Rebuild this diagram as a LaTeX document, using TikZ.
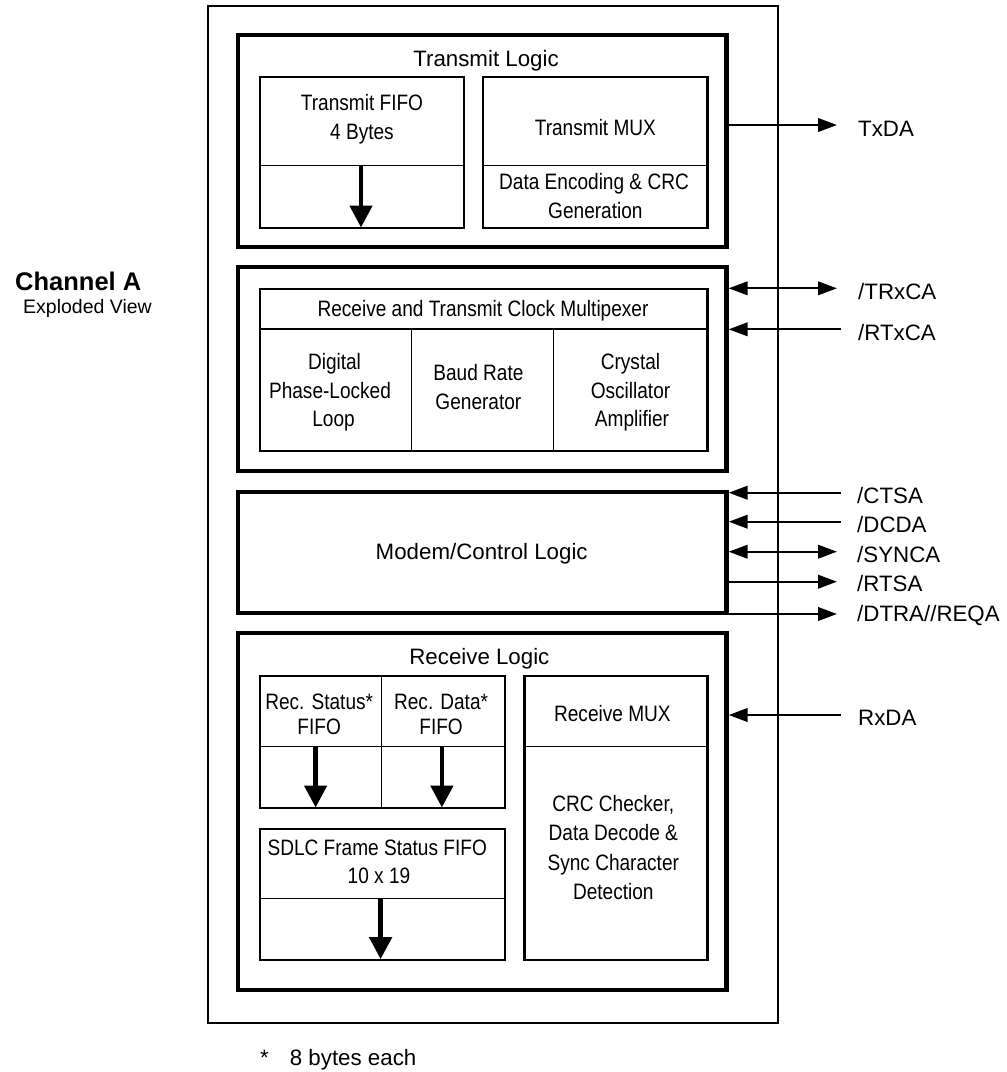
\documentclass[tikz,border=0pt]{standalone}
\usepackage{fontspec}
\setmainfont{Liberation Sans}
\newfontfamily\condf[FakeStretch=0.855]{Liberation Sans}
\usetikzlibrary{arrows.meta,fit}
\begin{document}
\begin{tikzpicture}[x=1pt,y=-1pt,
  outerbox/.style={draw, line width=2pt, inner sep=0pt},
  thickbox/.style={draw, line width=4.3pt, inner sep=0pt},
  innerbox/.style={draw, line width=2.2pt, inner sep=0pt},
  divider/.style={line width=1.3pt},
  reg/.style={font=\fontsize{22.3}{26}\selectfont, inner sep=0pt, anchor=base},
  cond/.style={font=\condf\fontsize{22.3}{26}\selectfont, inner sep=0pt, anchor=base},
  pin/.style={font=\fontsize{22.3}{26}\selectfont, inner sep=0pt, anchor=base west},
  sig/.style={line width=2.3pt},
  sigout/.style={sig, -{Triangle[length=19pt,width=13.5pt]}},
  sigin/.style={sig, -{Triangle[length=19pt,width=13.5pt]}},
  sigbi/.style={sig, {Triangle[length=19pt,width=13.5pt]}-{Triangle[length=19pt,width=13.5pt]}},
  downarrow/.style={line width=4.7pt, -{Triangle[length=22pt,width=22pt]}},
]
\path[use as bounding box, fill=white] (0,0) rectangle (1007,1072);

% outer frame
\node[outerbox, fit={(207.5,6)(777.7,1023.3)}] (outer) {};

% Transmit logic
\node[thickbox, fit={(238,35)(726.5,246.7)}] (tx) {};
\node[innerbox, fit={(260,76.7)(464.3,228.3)}] (tfifo) {};
\node[innerbox, fit={(483.3,76.7)(707.5,228.3)}] (tmux) {};
\draw[divider] (260,165.7) -- (464.3,165.7);
\draw[divider] (483.3,165.7) -- (707.5,165.7);
\node[reg] (txlogic) at (486,66) {Transmit Logic};
\node[cond] (tf1) at (362,110) {Transmit FIFO};
\node[cond] (tf2) at (362,139.3) {4 Bytes};
\node[cond] (tm1) at (595.4,135) {Transmit MUX};
\node[cond] (tm2) at (594,189.3) {Data Encoding \& CRC};
\node[cond] (tm3) at (595.4,218.3) {Generation};
\coordinate (a1s) at (361,165.7);
\coordinate (a1e) at (361,227.5);
\draw[downarrow] (a1s) -- (a1e);

% Clock multiplexer
\node[thickbox, fit={(238,266.7)(726.5,470.7)}] (clk) {};
\node[innerbox, fit={(260,289)(707.5,451)}] (clkmux) {};
\draw[divider] (260,329) -- (707.5,329);
\draw[divider] (411.3,329) -- (411.3,451);
\draw[divider] (553.6,329) -- (553.6,451);
\node[cond] (ch) at (483,316) {Receive and Transmit Clock Multipexer};
\node[cond] (d1) at (334.5,369.3) {Digital};
\node[cond] (d2) at (330,398.3) {Phase-Locked};
\node[cond] (d3) at (333.6,426.7) {Loop};
\node[cond] (b1) at (478.4,380) {Baud Rate};
\node[cond] (b2) at (478.4,409.3) {Generator};
\node[cond] (c1) at (630.5,369.3) {Crystal};
\node[cond] (c2) at (630.5,398.3) {Oscillator};
\node[cond] (c3) at (632,426.7) {Amplifier};

% Modem / control
\node[thickbox, fit={(238,491.7)(726.5,613.3)}] (modem) {};
\node[reg] (modemtxt) at (481.7,559) {Modem/Control Logic};

% Receive logic
\node[thickbox, fit={(238,633.3)(726.5,990)}] (rx) {};
\node[reg] (rxlogic) at (479.4,664.3) {Receive Logic};
\node[innerbox, fit={(260,675.7)(505,808.3)}] (recfifo) {};
\draw[divider] (381.8,675.7) -- (381.8,808.3);
\draw[divider] (260,746.7) -- (505,746.7);
\node[innerbox, fit={(524.5,675.7)(707.5,960)}] (rmux) {};
\draw[divider] (524.5,746.7) -- (707.5,746.7);
\node[innerbox, fit={(260,829.3)(505,960)}] (sdlc) {};
\draw[divider] (260,898.3) -- (505,898.3);
\node[cond] (rs1) at (319.2,709.3) {Rec. Status*};
\node[cond] (rs2) at (319.2,734.3) {FIFO};
\node[cond] (rd1) at (441.1,709.3) {Rec. Data*};
\node[cond] (rd2) at (441.1,734.3) {FIFO};
\node[cond] (rm1) at (612.4,721.7) {Receive MUX};
\node[cond] (cr1) at (613.3,811.7) {CRC Checker,};
\node[cond] (cr2) at (613.3,840.7) {Data Decode \&};
\node[cond] (cr3) at (613.3,870) {Sync Character};
\node[cond] (cr4) at (613.3,899.3) {Detection};
\node[cond] (sd1) at (377.2,855) {SDLC Frame Status FIFO};
\node[cond] (sd2) at (379,883.3) {10 x 19};
\coordinate (a2s) at (315.6,746.7);
\coordinate (a2e) at (315.6,807.5);
\coordinate (a3s) at (441.9,746.7);
\coordinate (a3e) at (441.9,807.5);
\coordinate (a4s) at (380.6,898.3);
\coordinate (a4e) at (380.6,959.2);
\draw[downarrow] (a2s) -- (a2e);
\draw[downarrow] (a3s) -- (a3e);
\draw[downarrow] (a4s) -- (a4e);

% pins
\coordinate (pTxDA) at (837,125);
\coordinate (pTRxC) at (837,288.3);
\coordinate (pRTxC) at (841,329.3);
\coordinate (pCTS) at (841,492.7);
\coordinate (pDCD) at (841,521.7);
\coordinate (pSYNC) at (837,551.7);
\coordinate (pRTS) at (837,581.7);
\coordinate (pDTR) at (837,614);
\coordinate (pRxDA) at (841,715);

\draw[sigout] (tx.east |- pTxDA) -- (pTxDA);
\draw[sigbi] (clk.east |- pTRxC) -- (pTRxC);
\draw[sigin] (pRTxC) -- (clk.east |- pRTxC);
\draw[sigin] (pCTS) -- (modem.east |- pCTS);
\draw[sigin] (pDCD) -- (modem.east |- pDCD);
\draw[sigbi] (modem.east |- pSYNC) -- (pSYNC);
\draw[sigout] (modem.east |- pRTS) -- (pRTS);
\draw[sigout] (modem.east |- pDTR) -- (pDTR);
\draw[sigin] (pRxDA) -- (rx.east |- pRxDA);

\node[pin] (lTxDA) at (858,136) {TxDA};
\node[pin] (lTRxC) at (858,299) {/TRxCA};
\node[pin] (lRTxC) at (858,340) {/RTxCA};
\node[pin] (lCTS) at (857,503.3) {/CTSA};
\node[pin] (lDCD) at (857,532.3) {/DCDA};
\node[pin] (lSYNC) at (857,562.3) {/SYNCA};
\node[pin] (lRTS) at (857,591.7) {/RTSA};
\node[pin] (lDTR) at (857,621.7) {/DTRA//REQA};
\node[pin] (lRxDA) at (858,725) {RxDA};

% side title
\node[font=\bfseries\fontsize{25.5}{30}\selectfont, inner sep=0pt, anchor=base west] (chan) at (15,290.5) {Channel A};
\node[font=\fontsize{19.5}{23}\selectfont, inner sep=0pt, anchor=base west] (expl) at (23,313) {Exploded View};

% footnote
\node[pin] (note) at (260,1065) {*\hspace{21pt}8 bytes each};
\end{tikzpicture}
\end{document}
